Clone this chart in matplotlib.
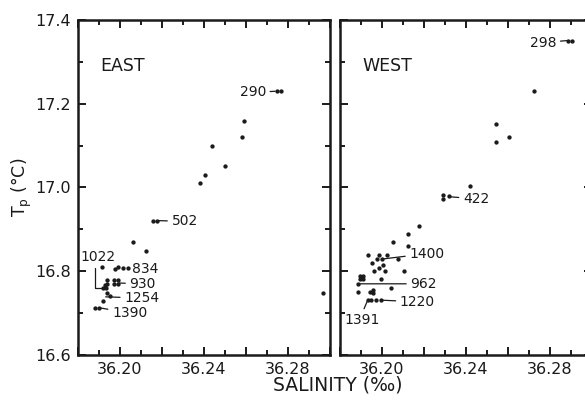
import matplotlib.pyplot as plt
from matplotlib.ticker import MultipleLocator, FuncFormatter

# East panel: salinity (per mil) and potential temperature (deg C)
east_s = [36.2748, 36.2767, 36.2590, 36.2580, 36.2440, 36.2500, 36.2405, 36.2380,
          36.2156, 36.2175, 36.2063, 36.2122, 36.1913,
          36.1976, 36.1990, 36.2014, 36.2038,
          36.1938, 36.1938, 36.1971, 36.1971, 36.1990, 36.1990, 36.1929,
          36.1919, 36.1933,
          36.1938, 36.1952, 36.1919,
          36.1880, 36.1900,
          36.2967]
east_t = [17.230, 17.230, 17.159, 17.121, 17.100, 17.051, 17.031, 17.011,
          16.921, 16.921, 16.871, 16.849, 16.809,
          16.805, 16.809, 16.808, 16.808,
          16.779, 16.770, 16.779, 16.770, 16.779, 16.770, 16.767,
          16.760, 16.760,
          16.748, 16.741, 16.729,
          16.713, 16.713,
          16.748]

# West panel
west_s = [36.2887, 36.2903, 36.2723, 36.2541, 36.2604, 36.2541, 36.2420,
          36.2292, 36.2292, 36.2319,
          36.2176, 36.2122, 36.2054, 36.2122,
          36.1935, 36.1987, 36.2025, 36.2078, 36.1975, 36.1998,
          36.1951, 36.2006, 36.1963, 36.1987, 36.2014, 36.2105,
          36.1895, 36.1911, 36.1895, 36.1911, 36.1994,
          36.1886, 36.1884, 36.1943, 36.1959, 36.1959, 36.2043,
          36.1932, 36.1948, 36.1971, 36.1995]
west_t = [17.351, 17.351, 17.231, 17.151, 17.121, 17.109, 17.004,
          16.982, 16.973, 16.980,
          16.909, 16.889, 16.870, 16.860,
          16.839, 16.839, 16.839, 16.829, 16.829, 16.829,
          16.819, 16.815, 16.801, 16.807, 16.801, 16.801,
          16.789, 16.789, 16.781, 16.781, 16.781,
          16.770, 16.751, 16.751, 16.755, 16.749, 16.759,
          16.731, 16.731, 16.731, 16.731]

# depth labels: (text, point s, point t, text s, text t, ha)
east_labels = [("290", 36.2745, 17.230, 36.2695, 17.227, "right"),
               ("502", 36.2175, 16.921, 36.2245, 16.919, "left"),
               ("834", 36.2038, 16.808, 36.2055, 16.806, "left"),
               ("930", 36.1990, 16.772, 36.2045, 16.770, "left"),
               ("1254", 36.1925, 16.739, 36.2020, 16.736, "left"),
               ("1390", 36.1900, 16.713, 36.1962, 16.700, "left")]
west_labels = [("298", 36.2885, 17.351, 36.2830, 17.346, "right"),
               ("422", 36.2319, 16.978, 36.2385, 16.973, "left"),
               ("1400", 36.1998, 16.829, 36.2130, 16.842, "left"),
               ("962", 36.1886, 16.770, 36.2135, 16.770, "left"),
               ("1220", 36.1995, 16.731, 36.2085, 16.727, "left")]

ink = "#1a1a1a"
fig = plt.figure(figsize=(5.85, 4.07), dpi=100)
ax1 = fig.add_axes([78/585, 1-355/407, 252/585, 335/407])
ax2 = fig.add_axes([340/585, 1-355/407, 252/585, 335/407])

def xfmt(v, p):
    return f"{v:.2f}" if abs(v/0.04 - round(v/0.04)) < 0.01 else ""

for ax in (ax1, ax2):
    ax.set_xlim(36.18, 36.30)
    ax.set_ylim(16.6, 17.4)
    ax.xaxis.set_major_locator(MultipleLocator(0.02))
    ax.xaxis.set_minor_locator(MultipleLocator(0.01))
    ax.xaxis.set_major_formatter(FuncFormatter(xfmt))
    ax.yaxis.set_major_locator(MultipleLocator(0.2))
    ax.yaxis.set_minor_locator(MultipleLocator(0.1))
    ax.tick_params(which='both', direction='in', top=True, right=True,
                   color=ink, labelcolor=ink, labelsize=11.5, width=1.4)
    ax.tick_params(which='major', length=5.5, pad=5)
    ax.tick_params(which='minor', length=3.5)
    for sp in ax.spines.values():
        sp.set_linewidth(1.8)
        sp.set_color(ink)

ax1.yaxis.set_major_formatter(FuncFormatter(lambda v, p: f"{v:.1f}"))
ax2.tick_params(labelleft=False)

ax1.plot(east_s, east_t, 'o', ms=2.1, color=ink)
ax2.plot(west_s, west_t, 'o', ms=2.1, color=ink)

ax1.text(36.1905, 17.29, "EAST", fontsize=12.5, color=ink, va='center')
ax2.text(36.1905, 17.29, "WEST", fontsize=12.5, color=ink, va='center')

line = dict(arrowstyle='-', color=ink, lw=0.9, shrinkA=1, shrinkB=1)
for ax, labels in ((ax1, east_labels), (ax2, west_labels)):
    for txt, ps, pt, ts, tt, ha in labels:
        ax.annotate(txt, xy=(ps, pt), xytext=(ts, tt), ha=ha, va='center',
                    fontsize=10, color=ink, arrowprops=line)

# bracket for 1022
ax1.annotate("1022", xy=(36.1919, 16.760), xytext=(36.1812, 16.834),
             ha='left', va='center', fontsize=10, color=ink,
             arrowprops=dict(arrowstyle='-', color=ink, lw=0.9, shrinkA=1, shrinkB=0,
                             relpos=(0.4, 0),
                             connectionstyle='angle,angleA=90,angleB=0,rad=0'))
# 1391 sits below its points
ax2.annotate("1391", xy=(36.1932, 16.731), xytext=(36.1822, 16.684),
             ha='left', va='center', fontsize=10, color=ink,
             arrowprops=dict(arrowstyle='-', color=ink, lw=0.9, shrinkA=1, shrinkB=1,
                             relpos=(0.5, 1)))

fig.text(338/585, 1-385/407, "SALINITY (‰)", ha='center', va='center',
         fontsize=13.5, color=ink)
fig.text(22/585, 1-187/407, r"T$_\mathrm{p}$ (°C)", ha='center', va='center',
         rotation=90, fontsize=12.5, color=ink)

fig.savefig("out.png", dpi=100)
